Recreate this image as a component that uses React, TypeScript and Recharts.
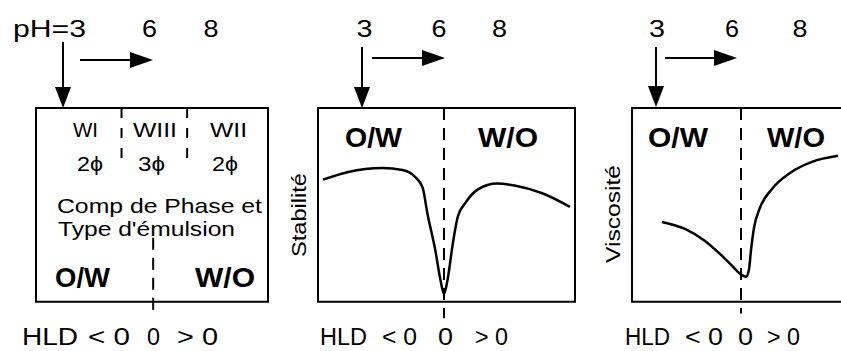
import React from 'react';
import { LineChart, Line, XAxis, YAxis, ReferenceLine, ReferenceArea } from 'recharts';

const FONT = '"Liberation Sans", Arial, sans-serif';

// labels
const phLevels = ['3', '6', '8'];
const hldLabels = ['HLD', '< 0', '0', '> 0'];
const phaseTypes = ['WI', 'WIII', 'WII'];
const phaseCounts = ['2ϕ', '3ϕ', '2ϕ'];
const phaseBounds = [-0.27, 0.29];
const emulsionTypes = ['O/W', 'W/O'];
const phaseText = ['Comp de Phase et', "Type d'émulsion"];
const yTitles = ['Stabilité', 'Viscosité'];

// curves (HLD in arbitrary units, property normalised 0..1)
const stabHld = [-0.96, -0.76, -0.49, -0.33, -0.23, -0.17, -0.13, -0.07, -0.03, 0, 0.03, 0.07, 0.11, 0.17, 0.27, 0.42, 0.56, 0.78, 1.0];
const stabValues = [0.63, 0.67, 0.69, 0.68, 0.645, 0.59, 0.45, 0.27, 0.12, 0.04, 0.12, 0.3, 0.44, 0.51, 0.58, 0.61, 0.6, 0.56, 0.49];
const viscHld = [-0.725, -0.514, -0.33, -0.193, -0.083, -0.009, 0.046, 0.073, 0.092, 0.119, 0.174, 0.284, 0.45, 0.651, 0.89];
const viscValues = [0.412, 0.376, 0.314, 0.247, 0.186, 0.144, 0.129, 0.165, 0.268, 0.381, 0.485, 0.582, 0.665, 0.722, 0.753];

const stabData = stabHld.map((x, i) => ({ x, y: stabValues[i] }));
const viscData = viscHld.map((x, i) => ({ x, y: viscValues[i] }));

const BOX_TOP = 108;
const Y_MIN = -0.12;
const PLOT_H = 217;
const PAD = 4;
const DASH = '12 8';
const HLD_Y = 345;

type PanelProps = {
  left: number;
  width: number;
  xMin: number;
  xMax: number;
  data?: { x: number; y: number }[];
  children?: React.ReactNode;
};

function Panel({ left, width, xMin, xMax, data = [], children }: PanelProps) {
  return (
    <div style={{ position: 'absolute', left: left - PAD, top: BOX_TOP - PAD }}>
      <LineChart width={width + PAD * 2} height={PLOT_H + PAD} data={data}
        margin={{ top: PAD, right: PAD, bottom: 0, left: PAD }}>
        <XAxis type="number" dataKey="x" domain={[xMin, xMax]} hide allowDataOverflow />
        <YAxis type="number" dataKey="y" domain={[Y_MIN, 1]} hide allowDataOverflow />
        <ReferenceArea x1={xMin} x2={xMax} y1={0} y2={1} fill="none" fillOpacity={0}
          stroke="#000" strokeWidth={2} ifOverflow="visible" />
        {children}
        {data.length > 0 && (
          <Line type="monotone" dataKey="y" stroke="#000" strokeWidth={2.5} dot={false}
            isAnimationActive={false} />
        )}
      </LineChart>
    </div>
  );
}

function T({ x, y, s, w, b, a = 'start', rot, children }: any) {
  return (
    <text x={x} y={y} fontSize={s} fontWeight={b ? 700 : 400} textAnchor={a}
      textLength={w} lengthAdjust="spacingAndGlyphs"
      transform={rot ? `rotate(-90 ${x} ${y})` : undefined}>
      {children}
    </text>
  );
}

function Arrows({ x, y1, tip, ry, rx1, rtip }: any) {
  return (
    <g stroke="#000" strokeWidth={2} fill="#000">
      <line x1={x} y1={y1} x2={x} y2={tip - 18} />
      <polygon points={`${x - 8},${tip - 21} ${x + 8},${tip - 21} ${x},${tip}`} stroke="none" />
      <line x1={rx1} y1={ry} x2={rtip - 18} y2={ry} />
      <polygon points={`${rtip - 23},${ry - 8} ${rtip - 23},${ry + 8} ${rtip},${ry}`} stroke="none" />
    </g>
  );
}

export default function App() {
  return (
    <div style={{ position: 'absolute', left: 0, top: 0, width: 841, height: 351, overflow: 'hidden',
      background: '#fff', fontFamily: FONT }}>
      {/* panel 1: phase behaviour */}
      <Panel left={36} width={232} xMin={-1} xMax={0.98}>
        {phaseBounds.map((b) => (
          <ReferenceLine key={b} segment={[{ x: b, y: 1 }, { x: b, y: 0.7 }]} stroke="#000"
            strokeWidth={2} strokeDasharray="10 10" ifOverflow="visible" />
        ))}
        <ReferenceLine segment={[{ x: 0, y: 0.33 }, { x: 0, y: -0.08 }]} stroke="#000"
          strokeWidth={2} strokeDasharray={DASH} ifOverflow="visible" />
      </Panel>
      {/* panel 2: stability */}
      <Panel left={318} width={257} xMin={-1} xMax={1.04} data={stabData}>
        <ReferenceLine segment={[{ x: 0, y: 1 }, { x: 0, y: -0.085 }]} stroke="#000"
          strokeWidth={2} strokeDasharray={DASH} ifOverflow="visible" />
      </Panel>
      {/* panel 3: viscosity */}
      <Panel left={632} width={218} xMin={-1} xMax={1.0} data={viscData}>
        <ReferenceLine segment={[{ x: 0, y: 1 }, { x: 0, y: -0.06 }]} stroke="#000"
          strokeWidth={2} strokeDasharray={DASH} ifOverflow="visible" />
      </Panel>

      <svg width={841} height={351} style={{ position: 'absolute', left: 0, top: 0, pointerEvents: 'none' }}
        fontFamily={FONT} fill="#000">
        {/* pH scale */}
        <T x={13} y={37} s={24} w={73}>{`pH=${phLevels[0]}`}</T>
        <T x={149.5} y={37} s={24} w={15} a="middle">{phLevels[1]}</T>
        <T x={211} y={37} s={24} w={15} a="middle">{phLevels[2]}</T>
        <T x={364.5} y={37} s={24} w={16} a="middle">{phLevels[0]}</T>
        <T x={439} y={37} s={24} w={15} a="middle">{phLevels[1]}</T>
        <T x={499.5} y={37} s={24} w={15} a="middle">{phLevels[2]}</T>
        <T x={657} y={37} s={24} w={16} a="middle">{phLevels[0]}</T>
        <T x={732} y={37} s={24} w={14} a="middle">{phLevels[1]}</T>
        <T x={800} y={37} s={24} w={15} a="middle">{phLevels[2]}</T>
        <Arrows x={63} y1={42} tip={108} ry={60} rx1={80} rtip={153} />
        <Arrows x={362} y1={47} tip={108} ry={58} rx1={372} rtip={445} />
        <Arrows x={656} y1={47} tip={107} ry={58} rx1={665} rtip={737} />

        {/* panel 1 texts */}
        <T x={85.5} y={137} s={20} w={25} a="middle">{phaseTypes[0]}</T>
        <T x={155} y={137} s={20} w={44} a="middle">{phaseTypes[1]}</T>
        <T x={228.5} y={137} s={20} w={37} a="middle">{phaseTypes[2]}</T>
        <T x={90} y={171} s={20} w={26} a="middle">{phaseCounts[0]}</T>
        <T x={151.5} y={171} s={20} w={27} a="middle">{phaseCounts[1]}</T>
        <T x={225} y={171} s={20} w={26} a="middle">{phaseCounts[2]}</T>
        <T x={57} y={213} s={21} w={205}>{phaseText[0]}</T>
        <T x={58} y={236} s={21} w={177}>{phaseText[1]}</T>
        <T x={55} y={287} s={28} w={55} b>{emulsionTypes[0]}</T>
        <T x={195} y={287} s={28} w={60} b>{emulsionTypes[1]}</T>

        {/* panel 2/3 texts */}
        <T x={345} y={147} s={27} w={57} b>{emulsionTypes[0]}</T>
        <T x={478} y={147} s={27} w={60} b>{emulsionTypes[1]}</T>
        <T x={648} y={147} s={27} w={60} b>{emulsionTypes[0]}</T>
        <T x={767} y={147} s={27} w={58} b>{emulsionTypes[1]}</T>
        <T x={306} y={215} s={21} w={84} a="middle" rot>{yTitles[0]}</T>
        <T x={620} y={214} s={21} w={98} a="middle" rot>{yTitles[1]}</T>

        {/* HLD rows */}
        <T x={22} y={HLD_Y} s={23} w={56}>{hldLabels[0]}</T>
        <T x={88} y={HLD_Y} s={23} w={42}>{hldLabels[1]}</T>
        <T x={147} y={HLD_Y} s={23} w={13}>{hldLabels[2]}</T>
        <T x={177} y={HLD_Y} s={23} w={41}>{hldLabels[3]}</T>
        <T x={320} y={HLD_Y} s={23} w={47}>{hldLabels[0]}</T>
        <T x={382} y={HLD_Y} s={23} w={35}>{hldLabels[1]}</T>
        <T x={438} y={HLD_Y} s={23} w={15}>{hldLabels[2]}</T>
        <T x={475} y={HLD_Y} s={23} w={33}>{hldLabels[3]}</T>
        <T x={625} y={HLD_Y} s={23} w={45}>{hldLabels[0]}</T>
        <T x={685} y={HLD_Y} s={23} w={38}>{hldLabels[1]}</T>
        <T x={738} y={HLD_Y} s={23} w={15}>{hldLabels[2]}</T>
        <T x={767} y={HLD_Y} s={23} w={33}>{hldLabels[3]}</T>
      </svg>
    </div>
  );
}
